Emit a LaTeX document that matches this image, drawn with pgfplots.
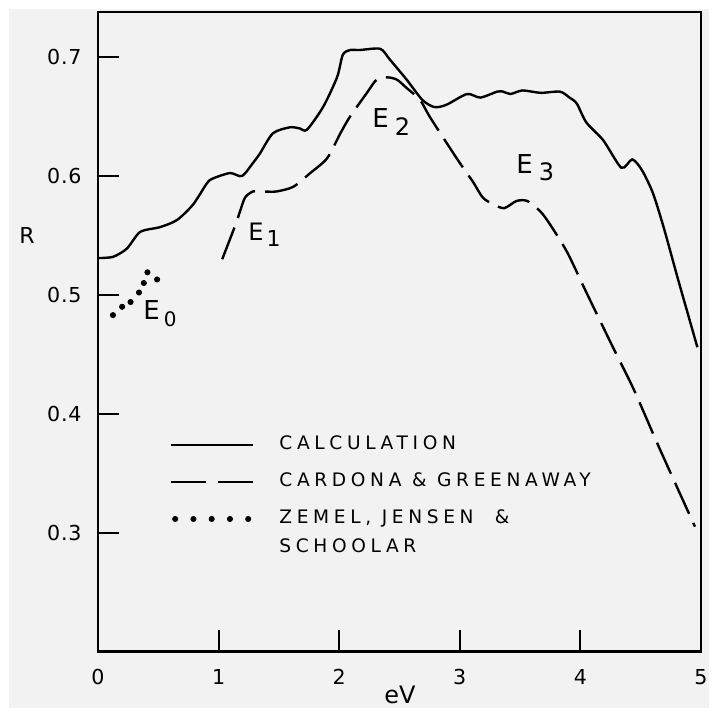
\documentclass[border=0pt]{standalone}
\usepackage{pgfplots}
\pgfplotsset{compat=1.18}
\usepackage{fontspec}
\setmainfont{DejaVu Sans}
\newfontfamily\tickfont{DejaVu Sans}[LetterSpace=4]
\newfontfamily\legfont{DejaVu Sans}[LetterSpace=25]
\definecolor{bg}{RGB}{242,242,242}
\begin{document}
\begin{tikzpicture}
\path[use as bounding box] (-49pt,-33.75pt) rectangle (311pt,325.75pt);
\fill[bg] (-44.5pt,-28.25pt) rectangle (305.5pt,321.25pt);
\begin{axis}[
  at={(0,0)}, anchor=south west,
  scale only axis, width=301.5pt, height=319.75pt,
  xmin=0, xmax=5, ymin=0.2, ymax=0.738,
  xtick={0,1,2,3,4,5}, ytick={0.3,0.4,0.5,0.6,0.7},
  tick pos=left, tick align=inside, major tick length=10.5pt,
  every tick/.style={black, line width=1pt},
  axis line style={line width=1.2pt},
  clip=false,
  /pgf/number format/assume math mode=true,
  yticklabel style={/pgf/number format/fixed, /pgf/number format/fixed zerofill, /pgf/number format/precision=1,
    font=\fontsize{10.3}{12}\tickfont, anchor=east, inner sep=0pt, xshift=-8pt},
  xticklabel style={font=\fontsize{10.3}{12}\tickfont, anchor=center, inner sep=0pt, yshift=-12.75pt},
  xlabel={eV},
  xlabel style={at={(axis description cs:0.5008,0)}, anchor=center, yshift=-21.75pt, font=\fontsize{12}{14}\selectfont},
  ylabel={R},
  ylabel style={at={(axis description cs:-0.1177,0.651)}, rotate=-90, anchor=center, font=\fontsize{11}{13}\selectfont},
  legend style={at={(axis description cs:0.1194,0.337)}, anchor=north west, draw=none, fill=none,
    inner sep=0pt, outer sep=0pt, row sep=9.5pt, font=\fontsize{9.3}{11}\legfont,
    nodes={inner sep=0pt, text height=7pt, text depth=2pt},
    /tikz/every odd column/.append style={column sep=12.5pt}},
  legend cell align=left,
]
\addplot[black, line width=1.2pt, smooth, tension=0.45,
  legend image code/.code={\draw[black, line width=1.2pt] (0pt,0pt) -- (41pt,0pt);}] coordinates {
(0.0,0.531) (0.124,0.532) (0.24,0.539) (0.35,0.553) (0.514,0.557) (0.655,0.563)
(0.788,0.576) (0.904,0.594) (0.954,0.598) (1.095,0.6025) (1.194,0.600) (1.285,0.611)
(1.343,0.619) (1.451,0.636) (1.592,0.641) (1.675,0.640) (1.733,0.639) (1.866,0.658)
(1.982,0.683) (2.03,0.702) (2.09,0.706) (2.17,0.706) (2.34,0.707) (2.42,0.698)
(2.56,0.681) (2.69,0.664) (2.79,0.658) (2.89,0.660) (3.06,0.669) (3.17,0.666)
(3.31,0.671) (3.36,0.671) (3.42,0.669) (3.52,0.672) (3.67,0.670) (3.83,0.671)
(3.91,0.666) (3.97,0.661) (4.05,0.645) (4.19,0.630) (4.34,0.607) (4.43,0.614)
(4.51,0.605) (4.60,0.586) (4.69,0.557) (4.81,0.513) (4.97,0.456)
};
\addlegendentry{CALCULATION}
\addplot[black, line width=1.2pt, smooth, tension=0.45, dash pattern=on 17pt off 5pt,
  legend image code/.code={\draw[black, line width=1.2pt, dash pattern=on 17.5pt off 6pt] (0pt,0pt) -- (41pt,0pt);}] coordinates {
(1.03,0.530) (1.14,0.559) (1.18,0.571) (1.22,0.582) (1.285,0.587) (1.37,0.587)
(1.48,0.587) (1.62,0.591) (1.76,0.6025) (1.90,0.615) (2.01,0.636) (2.09,0.650)
(2.23,0.670) (2.31,0.681) (2.40,0.683) (2.48,0.681) (2.56,0.674) (2.67,0.664)
(2.75,0.650) (2.89,0.628) (3.00,0.611) (3.11,0.595) (3.19,0.582) (3.28,0.576)
(3.37,0.573) (3.47,0.579) (3.56,0.579) (3.67,0.570) (3.75,0.559) (3.89,0.536)
(4.05,0.502) (4.26,0.458) (4.44,0.421) (4.66,0.370) (4.95,0.305)
};
\addlegendentry{CARDONA \& GREENAWAY}
\addplot[black, only marks, mark=*, mark size=1.3pt,
  legend image code/.code={\foreach \i in {0,...,4} {\fill[black] (2pt+\i*9.125pt,0pt) circle (1.3pt);}}] coordinates {
(0.124,0.483) (0.20,0.490) (0.27,0.494) (0.34,0.502) (0.38,0.510) (0.41,0.519) (0.49,0.513)
};
\addlegendentry{\begin{tabular}[t]{@{}l@{}}ZEMEL, JENSEN \ \&\\[3.5pt]SCHOOLAR\end{tabular}}

\node[anchor=base west, inner sep=0pt, font=\fontsize{13}{15}\selectfont] at (axis cs:0.373,0.479)
  {E\kern2pt\raisebox{-3.5pt}{\fontsize{10}{12}\selectfont 0}};
\node[anchor=base west, inner sep=0pt, font=\fontsize{12}{14}\selectfont] at (axis cs:1.244,0.5454)
  {E\kern1.5pt\raisebox{-3pt}{\fontsize{11}{12}\selectfont 1}};
\node[anchor=base west, inner sep=0pt, font=\fontsize{13}{15}\selectfont] at (axis cs:2.272,0.641)
  {E\kern3pt\raisebox{-4pt}{\fontsize{12}{14}\selectfont 2}};
\node[anchor=base west, inner sep=0pt, font=\fontsize{13}{15}\selectfont] at (axis cs:3.466,0.6025)
  {E\kern3pt\raisebox{-3.5pt}{\fontsize{12}{14}\selectfont 3}};
\end{axis}
\end{tikzpicture}
\end{document}
